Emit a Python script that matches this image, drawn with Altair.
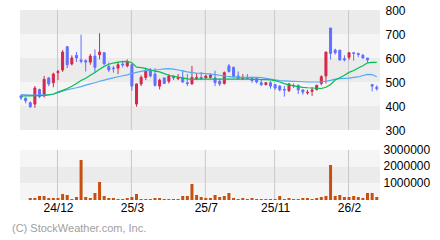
import altair as alt
import pandas as pd

# ---- data ----
opens = [442, 433, 414, 408, 469, 442, 517, 497, 539, 550, 647, 575, 611, 592, 589, 583, 608, 614, 622, 564,
         558, 558, 575, 567, 572, 408, 492, 519, 550, 533, 483, 517, 503, 525, 514, 517, 497, 492, 514, 519,
         517, 519, 517, 503, 494, 567, 561, 525, 514, 519, 517, 514, 497, 489, 497, 489, 483, 469, 464, 486,
         486, 467, 455, 461, 469, 494, 525, 725, 633, 633, 597, 603, 622, 619, 611, 600, 489, 478]
highs = [447, 435, 419, 483, 472, 525, 519, 539, 550, 633, 650, 611, 625, 697, 594, 617, 636, 703, 625, 581,
         567, 583, 589, 594, 575, 492, 528, 558, 558, 558, 514, 517, 533, 528, 533, 550, 533, 567, 536, 542,
         530, 536, 547, 514, 544, 575, 564, 544, 533, 533, 522, 519, 508, 500, 503, 489, 486, 483, 494, 494,
         489, 469, 467, 478, 489, 528, 625, 725, 639, 633, 611, 622, 625, 622, 617, 600, 492, 486]
lows = [425, 411, 392, 392, 433, 436, 483, 478, 508, 542, 558, 569, 583, 578, 544, 572, 539, 594, 572, 542,
        539, 533, 561, 561, 464, 397, 483, 508, 519, 481, 469, 492, 494, 508, 508, 497, 483, 489, 508, 508,
        514, 514, 483, 483, 489, 539, 517, 511, 508, 511, 497, 494, 483, 486, 472, 467, 461, 439, 458, 475,
        450, 447, 447, 442, 464, 486, 494, 594, 614, 589, 586, 592, 589, 603, 597, 581, 461, 464]
closes = [434, 422, 397, 475, 439, 511, 492, 533, 544, 625, 572, 600, 600, 586, 583, 608, 561, 625, 575, 550,
          555, 572, 571, 583, 483, 492, 519, 547, 525, 486, 508, 494, 525, 517, 519, 500, 493, 519, 519, 514,
          525, 528, 497, 492, 539, 544, 522, 514, 519, 514, 506, 500, 489, 497, 483, 475, 467, 466, 492, 483,
          467, 458, 458, 467, 486, 522, 625, 619, 622, 592, 592, 622, 619, 614, 600, 592, 483, 472]
volumes = [0, 0, 120000, 120000, 240000, 240000, 120000, 120000, 120000, 360000,
           300000, 60000, 180000, 2400000, 180000, 120000, 420000, 1080000, 240000, 120000,
           120000, 60000, 60000, 120000, 180000, 360000, 60000, 60000, 60000, 120000,
           120000, 60000, 60000, 60000, 60000, 240000, 240000, 960000, 300000, 180000,
           120000, 120000, 300000, 180000, 240000, 420000, 120000, 60000, 120000, 60000,
           120000, 60000, 60000, 60000, 60000, 60000, 240000, 60000, 120000, 60000,
           60000, 120000, 120000, 60000, 120000, 180000, 240000, 2100000, 240000, 300000,
           180000, 180000, 240000, 180000, 120000, 420000, 420000, 180000]
ma_short = [441, 442, 442, 443, 443, 444, 446, 450, 458, 465, 473, 482, 494, 506, 516, 528, 540, 553, 565, 574,
            579, 583, 585, 586, 580, 562, 560, 557, 550, 545, 542, 535, 528, 524, 520, 517, 513, 511, 512, 512,
            512, 512, 512, 512, 512, 512, 512, 512, 512, 512, 511, 511, 510, 510, 509, 506, 500, 493, 488, 484,
            481, 478, 476, 475, 474, 473, 478, 490, 508, 518, 528, 540, 548, 558, 568, 580, 582, 582]
ma_long = [447, 446, 445, 445, 445, 446, 447, 449, 456, 462, 468, 472, 476, 481, 487, 492, 497, 503, 508, 513,
           517, 522, 526, 530, 536, 540, 544, 547, 549, 550, 552, 555, 556, 554, 550, 546, 542, 539, 537, 536,
           535, 533, 531, 528, 525, 522, 521, 520, 519, 519, 519, 519, 518, 515, 512, 509, 506, 505, 504, 503,
           502, 501, 500, 500, 500, 500, 503, 507, 512, 514, 515, 516, 519, 521, 527, 532, 531, 522]

month_index = [9, 25, 41, 56, 72]
month_labels = ["24/12", "25/3", "25/7", "25/11", "26/2"]
price_ticks = [300, 400, 500, 600, 700, 800]
volume_ticks = [1000000, 2000000, 3000000]
price_bands_lo = [700, 600, 500, 400, 300]
price_bands_hi = [800, 700, 600, 500, 400]
price_bands_shade = ["a", "b", "a", "b", "a"]
vol_bands_lo = [2000000, 1000000, 0]
vol_bands_hi = [3000000, 2000000, 1000000]
vol_bands_shade = ["b", "a", "b"]

n = len(opens)
df = pd.DataFrame({
    "i": list(range(1, n + 1)),
    "open": opens, "high": highs, "low": lows, "close": closes,
    "vol": volumes, "ma1": ma_short, "ma2": ma_long,
})
grid_df = pd.DataFrame({"i": month_index, "ptop": 800, "pbot": 300, "vtop": 3000000, "vbot": 0})
pband_df = pd.DataFrame({"lo": price_bands_lo, "hi": price_bands_hi, "shade": price_bands_shade})
vband_df = pd.DataFrame({"lo": vol_bands_lo, "hi": vol_bands_hi, "shade": vol_bands_shade})

RED = "#d4284e"
BLUE = "#6070ff"
FONT = "Liberation Sans"

label_map = "{" + ",".join(f"'{k}':'{v}'" for k, v in zip(month_index, month_labels)) + "}"
x_scale = alt.Scale(domain=[0.78, 78.7], nice=False, zero=False, padding=0)
x_axis = alt.Axis(values=month_index, labelExpr=f"{label_map}[datum.value]", grid=False, ticks=False,
                  domain=False, title=None, labelFontSize=12, labelFont=FONT, labelColor="#000000",
                  labelPadding=2, labelAngle=0)
X = alt.X("i:Q", scale=x_scale, axis=x_axis)

p_scale = alt.Scale(domain=[300, 800], range=[120, 0], nice=False, zero=False, padding=0)
p_axis = alt.Axis(orient="right", values=price_ticks, grid=False, ticks=False, domain=False, title=None,
                  labelFontSize=12, labelFont=FONT, labelColor="#000000", labelPadding=5,
                  labelBaseline="middle")
v_scale = alt.Scale(domain=[0, 3000000], range=[190, 140], nice=False, padding=0)
v_axis = alt.Axis(orient="right", values=volume_ticks, format="d", grid=False, ticks=False, domain=False,
                  title=None, labelFontSize=12, labelFont=FONT, labelColor="#000000", labelPadding=3,
                  labelBaseline="middle", labelOffset=-1)

shade_scale = alt.Scale(domain=["a", "b"], range=["#ebebeb", "#f5f5f5"])
updown = alt.condition("datum.close >= datum.open", alt.value(RED), alt.value(BLUE))

p_bands = alt.Chart(pband_df).mark_rect().encode(
    x=alt.value(0), x2=alt.value("width"),
    y=alt.Y("hi:Q", scale=p_scale, axis=p_axis), y2="lo:Q",
    fill=alt.Fill("shade:N", scale=shade_scale, legend=None),
)
p_grid = alt.Chart(grid_df).mark_rule(color="#c8c8c8", strokeWidth=1, xOffset=-0.5).encode(
    x=X, y=alt.Y("ptop:Q", scale=p_scale, axis=p_axis), y2="pbot:Q",
)
wicks = alt.Chart(df).mark_rule(strokeWidth=1).encode(
    x=X, y=alt.Y("low:Q", scale=p_scale, axis=p_axis), y2="high:Q", color=updown,
)
bodies = alt.Chart(df).mark_bar(size=2, strokeWidth=1, orient="vertical").encode(
    x=X, y=alt.Y("open:Q", scale=p_scale, axis=p_axis), y2="close:Q", color=updown, stroke=updown,
)
line1 = alt.Chart(df).mark_line(color="#00c050", strokeWidth=1.2).encode(
    x=X, y=alt.Y("ma1:Q", scale=p_scale, axis=p_axis),
)
line2 = alt.Chart(df).mark_line(color="#55a8f5", strokeWidth=1.2).encode(
    x=X, y=alt.Y("ma2:Q", scale=p_scale, axis=p_axis),
)
price = alt.layer(p_bands, p_grid, wicks, bodies, line2, line1)

v_bands = alt.Chart(vband_df).mark_rect().encode(
    x=alt.value(0), x2=alt.value("width"),
    y=alt.Y("hi:Q", scale=v_scale, axis=v_axis), y2="lo:Q",
    fill=alt.Fill("shade:N", scale=shade_scale, legend=None),
)
v_grid = alt.Chart(grid_df).mark_rule(color="#c8c8c8", strokeWidth=1, xOffset=-0.5).encode(
    x=X, y=alt.Y("vtop:Q", scale=v_scale, axis=v_axis), y2="vbot:Q",
)
v_bars = alt.Chart(df).mark_bar(size=3, color="#c8500f", orient="vertical").encode(
    x=X, y=alt.Y("vol:Q", scale=v_scale, axis=v_axis),
)
volume = alt.layer(v_bands, v_grid, v_bars)

chart = alt.layer(price, volume).resolve_scale(y="independent", fill="shared").properties(
    width=360, height=190,
    padding={"left": 20, "top": 10, "right": 60, "bottom": 40},
    autosize=alt.AutoSizeParams(type="none"),
    background="#ffffff",
    title=alt.TitleParams("(C) StockWeather.com, Inc.", orient="bottom", anchor="start", frame="group",
                          dx=-8, offset=10, fontSize=11, font=FONT, fontWeight="normal", color="#a0a0a0"),
).configure_view(stroke=None)

chart.save("out.html", embed_options={"renderer": "svg", "actions": False})
